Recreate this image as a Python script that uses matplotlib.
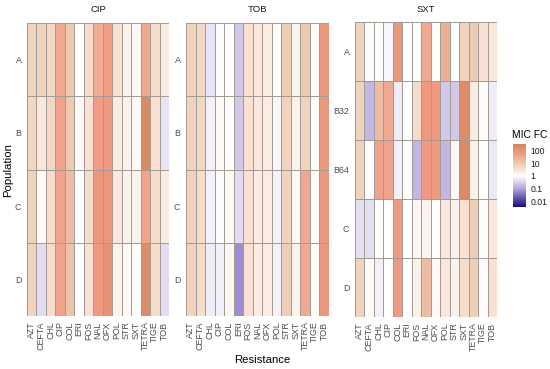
import numpy as np
import matplotlib
matplotlib.use("Agg")
import matplotlib.pyplot as plt
from matplotlib.colors import LinearSegmentedColormap, LogNorm

plt.rcParams['font.family'] = ['Liberation Sans', 'DejaVu Sans']

drugs = ["AZT", "CEFTA", "CHL", "CIP", "COL", "ERI", "FOS", "NAL", "OFX",
         "POL", "STR", "SXT", "TETRA", "TIGE", "TOB"]

panels = ["CIP", "TOB", "SXT"]

cip_rows = ["A", "B", "C", "D"]
cip_log10fc = [
    [0.8, 0.8, 0.7, 1.5, 1.0, 0.0, 0.6, 1.4, 1.7, 0.5, 0.2, 0.1, 1.5, 0.6, 0.3],
    [0.7, 0.4, 0.7, 1.6, 1.0, 0.1, 0.5, 1.7, 1.8, 0.3, 0.2, 0.1, 2.3, 0.5, -0.3],
    [0.8, 0.1, 0.6, 1.6, 1.2, 0.0, 0.6, 1.9, 1.9, 0.4, 0.2, 0.2, 1.6, 0.6, 0.3],
    [0.8, -0.4, 0.6, 1.6, 1.1, 0.0, 0.5, 1.8, 2.0, 0.2, 0.1, 0.05, 2.2, 0.6, -0.4],
]

tob_rows = ["A", "B", "C", "D"]
tob_log10fc = [
    [0.8, 0.7, -0.3, 0.05, 0.0, -0.6, 0.5, 0.4, 0.3, 0.05, 0.9, 0.2, 1.0, 0.05, 1.9],
    [0.8, 0.7, -0.15, 0.1, 0.0, -0.6, 0.5, 0.4, 0.3, -0.1, 0.8, 0.2, 0.8, 0.05, 1.9],
    [0.8, 0.6, -0.15, 0.05, 0.1, -0.4, 0.5, 0.3, 0.3, -0.15, 0.8, 0.1, 1.5, 0.05, 1.9],
    [0.8, 0.6, -0.2, -0.15, 0.15, -1.2, 0.5, 0.3, 0.3, -0.15, 0.9, 0.2, 1.5, 0.05, 1.9],
]

sxt_rows = ["A", "B32", "B64", "C", "D"]
sxt_log10fc = [
    [0.8, 0.05, 0.0, -0.1, 1.9, 0.0, 0.0, 1.5, 0.05, 1.4, 0.0, 0.8, 1.0, 0.5, 0.4],
    [0.8, -0.8, 1.2, 1.5, -0.2, 0.0, 0.6, 1.8, 1.8, -0.6, -0.6, 2.2, 0.3, 0.05, -0.2],
    [0.8, 0.05, 1.6, 1.6, -0.15, 0.0, -0.8, 1.8, 1.8, -0.8, 0.1, 2.3, 0.2, 0.0, -0.25],
    [-0.35, -0.35, 0.0, 0.0, 1.8, 0.0, 0.15, 0.2, 0.0, 0.4, 0.2, 0.5, 0.9, 0.05, 0.4],
    [0.8, 0.05, -0.15, 0.0, 1.8, 0.0, 0.2, 1.2, 0.1, 0.4, 0.2, 0.6, 0.9, 0.05, 0.5],
]

legend_ticks = [0.01, 0.1, 1, 10, 100]
legend_labels = ["0.01", "0.1", "1", "10", "100"]

lo, hi = -2.45, 2.5
stops = [(-2.45, "#1a0a80"), (-1.0, "#b4a4dc"), (0.0, "#ffffff"),
         (0.5, "#f9e0d2"), (1.0, "#eacab0"), (1.7, "#f29c86"),
         (2.5, "#d0865a")]
cmap = LinearSegmentedColormap.from_list(
    "micfc", [((v - lo) / (hi - lo), c) for v, c in stops])
norm = LogNorm(vmin=10 ** lo, vmax=10 ** hi)

fig = plt.figure(figsize=(5.5, 3.69), dpi=100)
W, H = 550, 369

def fax(x0, y0, x1, y1):
    return fig.add_axes([x0 / W, 1 - y1 / H, (x1 - x0) / W, (y1 - y0) / H])

boxes = [(27, 23, 169, 316), (186, 23, 329, 316), (355, 22, 497, 317)]
datas = [(cip_rows, cip_log10fc), (tob_rows, tob_log10fc), (sxt_rows, sxt_log10fc)]

mesh = None
for title, box, (rows, vals) in zip(panels, boxes, datas):
    ax = fax(*box)
    fc = 10 ** np.array(vals, dtype=float)
    mesh = ax.pcolormesh(np.arange(len(drugs) + 1), np.arange(len(rows) + 1), fc,
                         cmap=cmap, norm=norm, edgecolors="#a39c95", linewidth=0.6)
    ax.set_xlim(0, len(drugs))
    ax.set_ylim(len(rows), 0)
    ax.set_xticks(np.arange(len(drugs)) + 0.5)
    ax.set_xticklabels(drugs, rotation=90, fontsize=6.4, color="#4d4d4d")
    ax.set_yticks(np.arange(len(rows)) + 0.5)
    ax.set_yticklabels(rows, fontsize=6.4, color="#4d4d4d")
    ax.tick_params(axis="x", length=0, pad=4)
    ax.tick_params(axis="y", length=0, pad=4)
    for s in ax.spines.values():
        s.set_visible(False)
    fig.text((box[0] + box[2]) / 2 / W, 1 - 9 / H, title, ha="center", va="center",
             fontsize=6.8, color="#1a1a1a")

fig.text(8 / W, 1 - 170 / H, "Population", rotation=90, ha="center", va="center", fontsize=8.2)
fig.text(262 / W, 1 - 360 / H, "Resistance", ha="center", va="center", fontsize=8.2)

cax = fax(513, 144, 526, 207)
cb = fig.colorbar(mesh, cax=cax)
cb.set_ticks(legend_ticks)
cb.set_ticklabels(legend_labels)
cb.ax.tick_params(length=0, labelsize=6.2, colors="#1a1a1a", pad=3)
cb.ax.minorticks_off()
cb.outline.set_visible(False)
fig.text(512 / W, 1 - 135 / H, "MIC FC", ha="left", va="center", fontsize=7.4)

fig.savefig("out.png", dpi=100)
